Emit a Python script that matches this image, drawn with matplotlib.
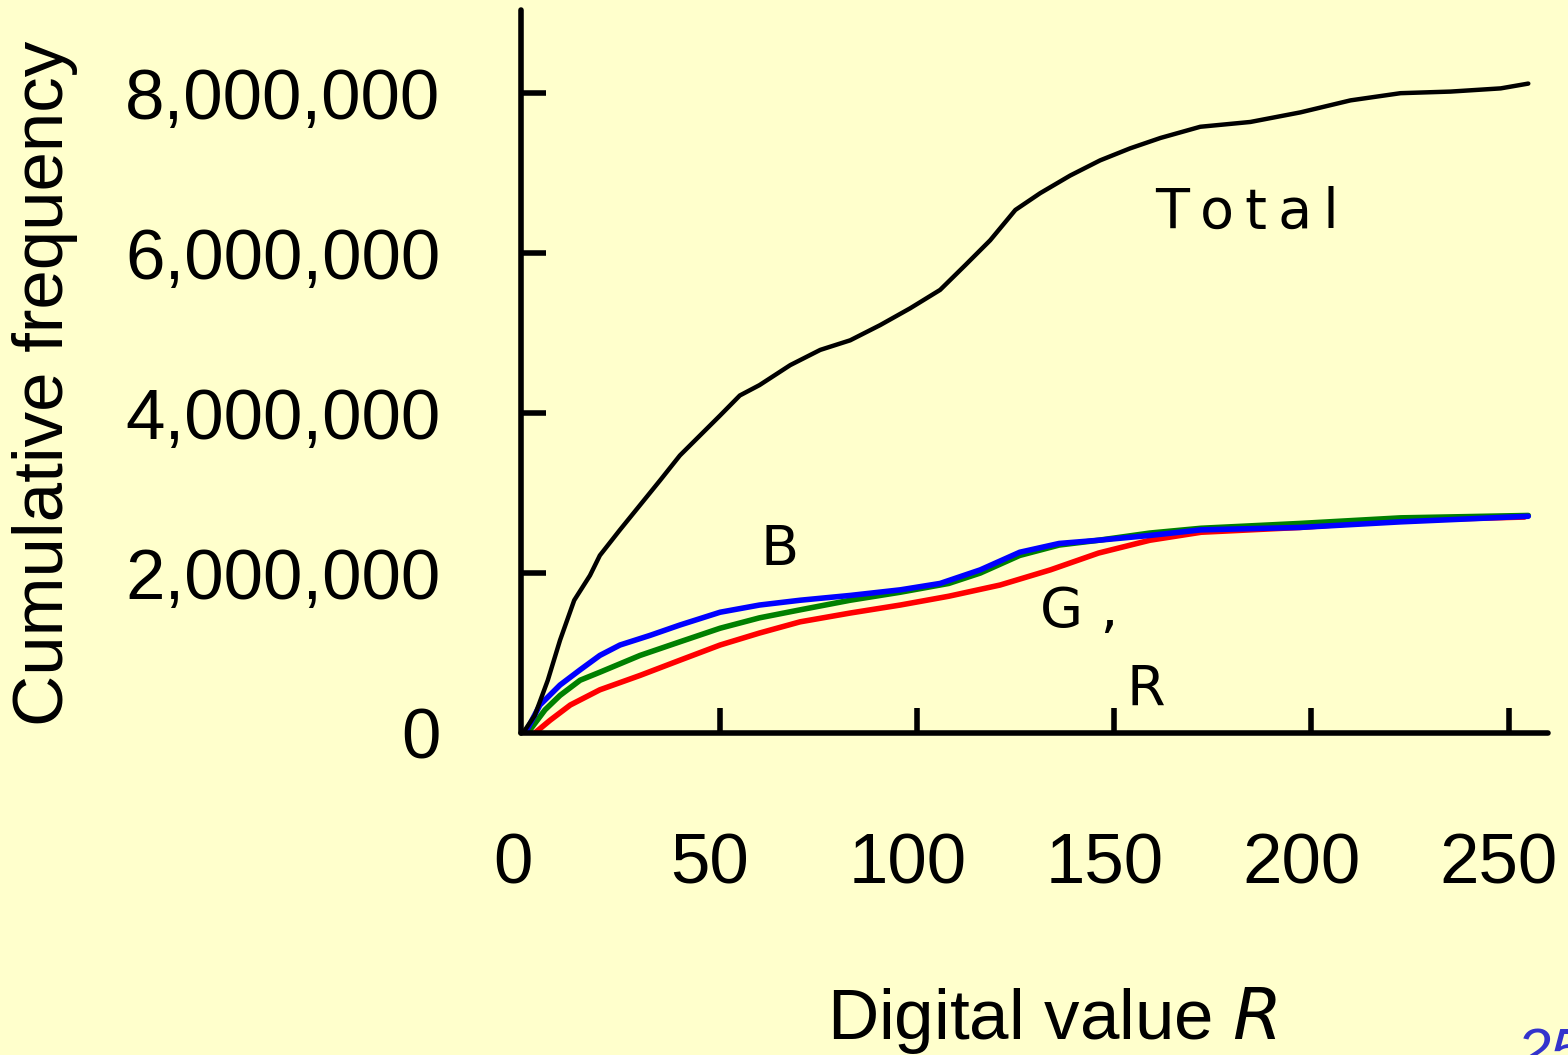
import matplotlib
matplotlib.use("Agg")
import matplotlib.pyplot as plt
import matplotlib.transforms as mtransforms
import numpy as np

plt.rcParams['font.family'] = ['Liberation Sans', 'DejaVu Sans']

# digital value (x) and cumulative frequency in millions
total_x = [0, 3, 6.3, 9.4, 13, 17, 19.5, 24.6, 29.7, 34.8, 39.8, 44.9, 50, 55, 60,
           67.8, 75.4, 83, 90.6, 98.2, 105.8, 112.2, 118.5, 124.9, 131.2, 138.8,
           146.4, 154, 161.7, 171.8, 184.5, 197.2, 209.9, 222.6, 235.3, 248, 255]
total_y = [0, 0.22, 0.66, 1.16, 1.66, 1.97, 2.22, 2.54, 2.85, 3.16, 3.47, 3.72, 3.97,
           4.22, 4.35, 4.6, 4.79, 4.91, 5.1, 5.31, 5.54, 5.85, 6.16, 6.54, 6.75, 6.97,
           7.16, 7.31, 7.44, 7.58, 7.64, 7.76, 7.91, 8.0, 8.02, 8.06, 8.12]

blue_x = [0, 1, 4.3, 9.4, 14.5, 19.5, 24.6, 32.2, 39.8, 50, 60, 70.3, 83, 95.7,
          105.8, 116, 126, 136, 146, 159, 172, 197, 222.6, 255]
blue_y = [0, 0.04, 0.35, 0.6, 0.79, 0.97, 1.1, 1.22, 1.35, 1.51, 1.6, 1.66, 1.72,
          1.79, 1.87, 2.04, 2.26, 2.37, 2.41, 2.47, 2.54, 2.57, 2.64, 2.71]

green_x = [0.5, 1.8, 5.6, 9.4, 14.5, 19.5, 29.7, 39.8, 50, 60, 70.3, 83, 95.7, 108,
           116, 126, 136, 146, 159, 172, 197, 222.6, 255]
green_y = [0, 0.04, 0.29, 0.47, 0.66, 0.76, 0.97, 1.14, 1.31, 1.44, 1.54, 1.66, 1.76,
           1.87, 2.0, 2.22, 2.35, 2.41, 2.5, 2.56, 2.62, 2.69, 2.72]

red_x = [3, 6.9, 12, 19.5, 29.7, 39.8, 50, 60, 70.3, 83, 95.7, 108, 121, 133.8,
         146, 159, 172, 197, 222.6, 254]
red_y = [0, 0.16, 0.35, 0.54, 0.72, 0.91, 1.1, 1.25, 1.39, 1.5, 1.6, 1.71, 1.85,
         2.04, 2.25, 2.41, 2.51, 2.57, 2.66, 2.7]

x_ticks = [0, 50, 100, 150, 200, 250]
y_ticks = [0, 2000000, 4000000, 6000000, 8000000]
y_ticklabels = ['0', '2,000,000', '4,000,000', '6,000,000', '8,000,000']

bg = '#FFFFCC'
fig = plt.figure(figsize=(15.68, 10.55), dpi=100, facecolor=bg)
ax = fig.add_axes([521/1568, 1-733/1055, (1548-521)/1568, (733-10)/1055])
ax.set_facecolor(bg)

M = 1e6
ax.plot(red_x, np.array(red_y)*M, color='#FF0000', lw=4, solid_capstyle='round')
ax.plot(green_x, np.array(green_y)*M, color='#008000', lw=4, solid_capstyle='round')
ax.plot(blue_x, np.array(blue_y)*M, color='#0000FF', lw=4, solid_capstyle='round')
ax.plot(total_x, np.array(total_y)*M, color='black', lw=3.2, solid_capstyle='round')

ax.set_xlim(-0.5, 260)
ax.set_ylim(0, 9.04e6)

for s in ['top', 'right']:
    ax.spines[s].set_visible(False)
for s in ['left', 'bottom']:
    ax.spines[s].set_linewidth(4)
    ax.spines[s].set_capstyle('round')
ax.spines['left'].set_position(('data', -0.5))

ax.set_xticks(x_ticks)
ax.set_xticklabels([str(v) for v in x_ticks])
ax.set_yticks(y_ticks)
ax.set_yticklabels(y_ticklabels)
ax.tick_params(axis='both', direction='in', length=18, width=4, labelsize=51)
ax.tick_params(axis='x', pad=72)
ax.tick_params(axis='y', pad=58)
for t in ax.xaxis.get_ticklines() + ax.yaxis.get_ticklines():
    t.set_solid_capstyle('round')
ax.yaxis.get_ticklines()[0].set_visible(False)
ax.xaxis.get_ticklines()[0].set_visible(False)
# x tick labels sit a little left of their ticks in the original
shift = mtransforms.ScaledTranslation(-10/100, 0, fig.dpi_scale_trans)
for lab in ax.get_xticklabels():
    lab.set_transform(lab.get_transform() + shift)

fig.text(45/1568, 1-383/1055, 'Cumulative frequency', rotation=90,
         ha='center', va='center', fontsize=51)
fig.text(1052/1568, 1-1020/1055, 'Digital value $\\mathit{R}$',
         ha='center', va='center', fontsize=51)

lbl = dict(family='DejaVu Sans', fontsize=40, color='black')
ax.text(160.4, 6.51*M, 'T\u2009o\u2009t\u2009a\u2009l', ha='left', va='center', **lbl)
ax.text(65.2, 2.29*M, 'B', ha='center', va='center', **lbl)
ax.text(131.2, 1.51*M, 'G ,', ha='left', va='center', **lbl)
ax.text(158, 0.54*M, 'R', ha='center', va='center', **lbl)

fig.text(1516/1568, 1-1028/1055, '25', ha='left', va='top', fontsize=44,
         style='italic', color='#3333CC')

fig.savefig('out.png', dpi=100, facecolor=bg)
